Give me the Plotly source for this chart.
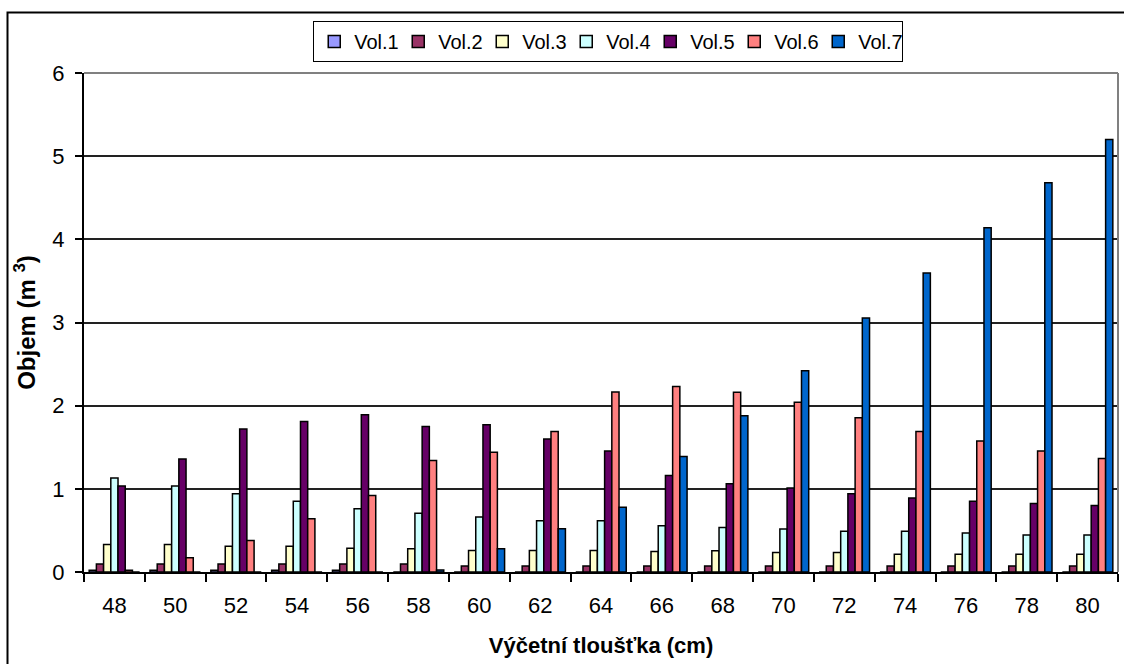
import plotly.graph_objects as go

categories = ["48", "50", "52", "54", "56", "58", "60", "62", "64", "66",
              "68", "70", "72", "74", "76", "78", "80"]

vol1 = [0.02, 0.02, 0.02, 0.02, 0.02, 0, 0, 0, 0, 0, 0, 0, 0, 0, 0, 0, 0]
vol2 = [0.096, 0.096, 0.096, 0.096, 0.096, 0.096, 0.072, 0.072, 0.072, 0.072,
        0.072, 0.072, 0.072, 0.072, 0.072, 0.072, 0.072]
vol3 = [0.33, 0.33, 0.31, 0.31, 0.285, 0.28, 0.26, 0.26, 0.26, 0.245,
        0.257, 0.233, 0.233, 0.213, 0.213, 0.213, 0.213]
vol4 = [1.13, 1.035, 0.94, 0.85, 0.76, 0.705, 0.66, 0.615, 0.615, 0.555,
        0.536, 0.516, 0.49, 0.49, 0.468, 0.445, 0.445]
vol5 = [1.035, 1.36, 1.72, 1.81, 1.89, 1.75, 1.77, 1.60, 1.455, 1.16,
        1.06, 1.01, 0.94, 0.89, 0.85, 0.825, 0.80]
vol6 = [0.02, 0.17, 0.38, 0.64, 0.92, 1.34, 1.44, 1.69, 2.165, 2.23,
        2.16, 2.04, 1.855, 1.69, 1.575, 1.455, 1.365]
vol7 = [0, 0, 0, 0, 0, 0.025, 0.28, 0.52, 0.78, 1.39,
        1.88, 2.42, 3.055, 3.595, 4.14, 4.68, 5.20]

series_names = ["Vol.1", "Vol.2", "Vol.3", "Vol.4", "Vol.5", "Vol.6", "Vol.7"]
series_values = [vol1, vol2, vol3, vol4, vol5, vol6, vol7]
colors = ["#9999FF", "#993366", "#FFFFCC", "#CCFFFF", "#660066", "#FF8080", "#0066CC"]

y_ticks = [0, 1, 2, 3, 4, 5, 6]

FONT = "Liberation Sans, Arial, sans-serif"

fig = go.Figure()
for name, vals, col in zip(series_names, series_values, colors):
    fig.add_trace(go.Bar(
        x=categories, y=vals, name=name,
        marker=dict(color=col, line=dict(color="black", width=1.5)),
    ))

W, H = 1124, 664
L, R, T, B = 84, 6, 73, 92
pw, ph = W - L - R, H - T - B

def px_x(p):
    return (p - L) / pw

def px_y(p):
    return (H - B - p) / ph

fig.update_layout(
    width=W, height=H,
    margin=dict(l=L, r=R, t=T, b=B),
    paper_bgcolor="white", plot_bgcolor="white",
    barmode="group", bargap=0.17, bargroupgap=0,
    font=dict(family=FONT, size=22, color="black"),
    showlegend=True,
    legend=dict(
        orientation="h", x=0.507, xanchor="center", y=px_y(21), yanchor="top",
        bordercolor="black", borderwidth=1, bgcolor="white",
        font=dict(family=FONT, size=20, color="black"),
        traceorder="normal", entrywidth=39, entrywidthmode="pixels",
    ),
    xaxis=dict(
        type="category", tickson="boundaries", ticks="outside", ticklen=8,
        tickcolor="black", tickwidth=1.5,
        showline=True, linecolor="black", linewidth=2,
        showgrid=False, ticklabelstandoff=13,
        tickfont=dict(family=FONT, size=22),
        title=dict(text="<b>Výčetní tloušťka (cm)</b>", standoff=20,
                   font=dict(family=FONT, size=22)),
    ),
    yaxis=dict(
        range=[0, 6], tickvals=y_ticks, ticktext=[str(v) for v in y_ticks],
        ticks="outside", ticklen=7, tickcolor="black", tickwidth=1.5,
        showline=True, linecolor="black", linewidth=2,
        showgrid=True, gridcolor="#222222", gridwidth=1.5,
        zeroline=False, ticklabelstandoff=6,
        tickfont=dict(family=FONT, size=22),
        title=dict(text="<b>Objem (m <sup>3</sup>)</b>", standoff=10,
                   font=dict(family=FONT, size=24)),
    ),
    shapes=[
        # grey plot-area border (top and right)
        dict(type="line", xref="paper", yref="paper", x0=0, x1=1, y0=1, y1=1,
             line=dict(color="#808080", width=2), layer="above"),
        dict(type="line", xref="paper", yref="paper", x0=1, x1=1, y0=0, y1=1,
             line=dict(color="#808080", width=2), layer="above"),
        # outer chart border
        dict(type="rect", xref="paper", yref="paper",
             x0=px_x(7.5), x1=px_x(1135), y0=px_y(12.5), y1=px_y(680),
             line=dict(color="black", width=2), fillcolor="rgba(0,0,0,0)",
             layer="above"),
    ],
)

fig.write_html("out.html")
